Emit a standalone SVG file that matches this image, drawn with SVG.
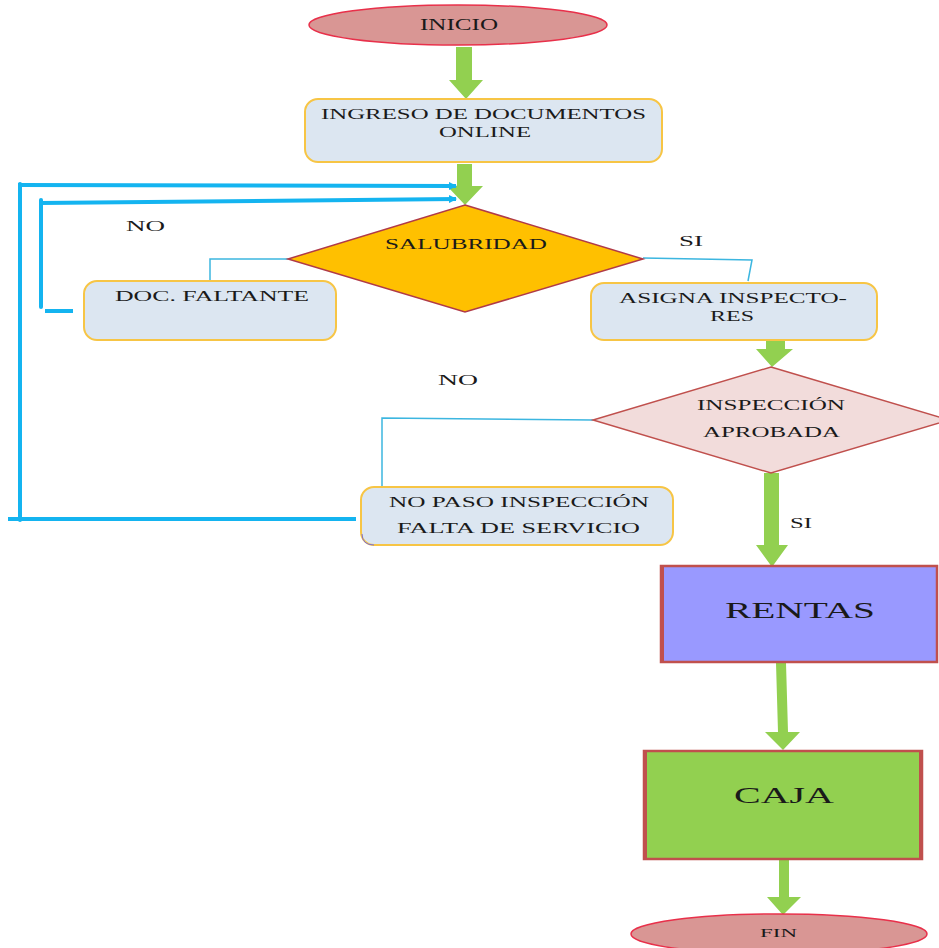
<svg xmlns="http://www.w3.org/2000/svg" width="939" height="948" viewBox="0 0 939 948">
  <style>
    .t { font-family: "Liberation Serif", "Times New Roman", serif; fill: #1a1a1a; }
    .box { fill: #dce6f1; stroke: #f7c545; stroke-width: 2; }
    .term { fill: #d99694; stroke: #e8304a; stroke-width: 1.5; }
    .garrow { fill: #92d050; }
    .loop { fill: none; stroke: #14b4f0; stroke-width: 4; }
    .thin { fill: none; stroke: #3cb6e0; stroke-width: 1.5; }
  </style>
  <defs>
    <marker id="bluehead" markerWidth="8" markerHeight="8" refX="7" refY="4" orient="auto" markerUnits="userSpaceOnUse" viewBox="0 0 8 8">
      <path d="M0,0 L8,4 L0,8 z" fill="#14b4f0"/>
    </marker>
  </defs>

  <rect width="939" height="948" fill="#ffffff"/>

  <!-- connectors -->
  <g id="connectors">
    <!-- green block arrows -->
    <polygon class="garrow" points="456,47 472,47 472,80 483,80 466,99 449,80 456,80"/>
    <polygon class="garrow" points="457,164 472,164 472,186 483,186 465,205 447,186 457,186"/>
    <polygon class="garrow" points="766,341 785,341 785,349 793,349 772,367 756,349 766,349"/>
    <polygon class="garrow" points="764,473 779,473 779,545 788,545 772,567 756,545 764,545"/>
    <polygon class="garrow" points="776,663 786,663 788,732 800,732 783,750 765,732 778,732"/>
    <polygon class="garrow" points="779,860 789,860 789,897 801,897 783,915 767,897 779,897"/>

    <!-- return loops -->
    <polyline class="loop" points="8,519 356,519"/>
    <polyline class="loop" points="20,520 20,184" stroke-linecap="round"/>
    <line class="loop" x1="18" y1="185" x2="456" y2="186" stroke-width="3" marker-end="url(#bluehead)"/>
    <polyline class="loop" points="41,307 41,200" stroke-linecap="round"/>
    <line class="loop" x1="40" y1="203" x2="456" y2="199" stroke-width="3" marker-end="url(#bluehead)"/>
    <line class="loop" x1="45" y1="311" x2="73" y2="311" stroke-width="3"/>

    <!-- decision branches -->
    <polyline class="thin" points="288,259 210,259 210,281"/>
    <polyline class="thin" points="643,258 752,260 748,281"/>
    <polyline class="thin" points="593,420 382,418 382,488"/>
  </g>

  <!-- branch labels -->
  <text class="t" x="126" y="231" font-size="15" textLength="39" lengthAdjust="spacingAndGlyphs">NO</text>
  <text class="t" x="679" y="246" font-size="15" textLength="24" lengthAdjust="spacingAndGlyphs">SI</text>
  <text class="t" x="438" y="385" font-size="15" textLength="40" lengthAdjust="spacingAndGlyphs">NO</text>
  <text class="t" x="790" y="528" font-size="15" textLength="22" lengthAdjust="spacingAndGlyphs">SI</text>

  <g id="inicio">
    <ellipse class="term" cx="458" cy="25" rx="149" ry="20"/>
    <text class="t" x="420" y="30" font-size="16" textLength="78" lengthAdjust="spacingAndGlyphs">INICIO</text>
  </g>

  <g id="ingreso">
    <rect class="box" x="305" y="99" width="357" height="63" rx="13"/>
    <text class="t" x="321" y="119" font-size="15" textLength="325" lengthAdjust="spacingAndGlyphs">INGRESO DE DOCUMENTOS</text>
    <text class="t" x="439" y="137" font-size="15" textLength="92" lengthAdjust="spacingAndGlyphs">ONLINE</text>
  </g>

  <g id="salubridad">
    <polygon points="465,205 643,259 465,312 288,259" fill="#ffc000" stroke="#b03a48" stroke-width="1.5"/>
    <text class="t" x="385" y="249" font-size="15" textLength="162" lengthAdjust="spacingAndGlyphs">SALUBRIDAD</text>
  </g>

  <g id="doc-faltante">
    <rect class="box" x="84" y="281" width="252" height="59" rx="13"/>
    <text class="t" x="115" y="301" font-size="15" textLength="194" lengthAdjust="spacingAndGlyphs">DOC. FALTANTE</text>
  </g>

  <g id="asigna">
    <rect class="box" x="591" y="283" width="286" height="57" rx="13"/>
    <text class="t" x="619" y="303" font-size="15" textLength="228" lengthAdjust="spacingAndGlyphs">ASIGNA INSPECTO-</text>
    <text class="t" x="710" y="321" font-size="15" textLength="44" lengthAdjust="spacingAndGlyphs">RES</text>
  </g>

  <g id="inspeccion">
    <polygon points="771,367 949,420 771,473 593,420" fill="#f2dcdb" stroke="#c0504d" stroke-width="1.5"/>
    <text class="t" x="697" y="410" font-size="15" textLength="148" lengthAdjust="spacingAndGlyphs">INSPECCIÓN</text>
    <text class="t" x="703" y="437" font-size="15" textLength="137" lengthAdjust="spacingAndGlyphs">APROBADA</text>
  </g>

  <g id="no-paso">
    <rect class="box" x="361" y="487" width="312" height="58" rx="13"/>
    <path d="M374,545 Q362,545 362,534" fill="none" stroke="#7a6fd8" stroke-width="1"/>
    <text class="t" x="389" y="507" font-size="15" textLength="260" lengthAdjust="spacingAndGlyphs">NO PASO INSPECCIÓN</text>
    <text class="t" x="397" y="533" font-size="15" textLength="243" lengthAdjust="spacingAndGlyphs">FALTA DE SERVICIO</text>
  </g>

  <g id="rentas">
    <rect x="661" y="566" width="276" height="96" fill="#9999ff" stroke="#c0504d" stroke-width="2.5"/>
    <line x1="662" y1="566" x2="662" y2="662" stroke="#c0504d" stroke-width="4"/>
    <text class="t" x="725" y="618" font-size="24" textLength="150" lengthAdjust="spacingAndGlyphs">RENTAS</text>
  </g>

  <g id="caja">
    <rect x="644" y="751" width="278" height="108" fill="#92d050" stroke="#c0504d" stroke-width="2.5"/>
    <line x1="645" y1="751" x2="645" y2="859" stroke="#c0504d" stroke-width="4"/>
    <line x1="921" y1="751" x2="921" y2="859" stroke="#c0504d" stroke-width="4"/>
    <text class="t" x="734" y="803" font-size="24" textLength="100" lengthAdjust="spacingAndGlyphs">CAJA</text>
  </g>

  <g id="fin">
    <ellipse class="term" cx="779" cy="934" rx="148" ry="20"/>
    <text class="t" x="760" y="937" font-size="13" textLength="37" lengthAdjust="spacingAndGlyphs">FIN</text>
  </g>
</svg>
